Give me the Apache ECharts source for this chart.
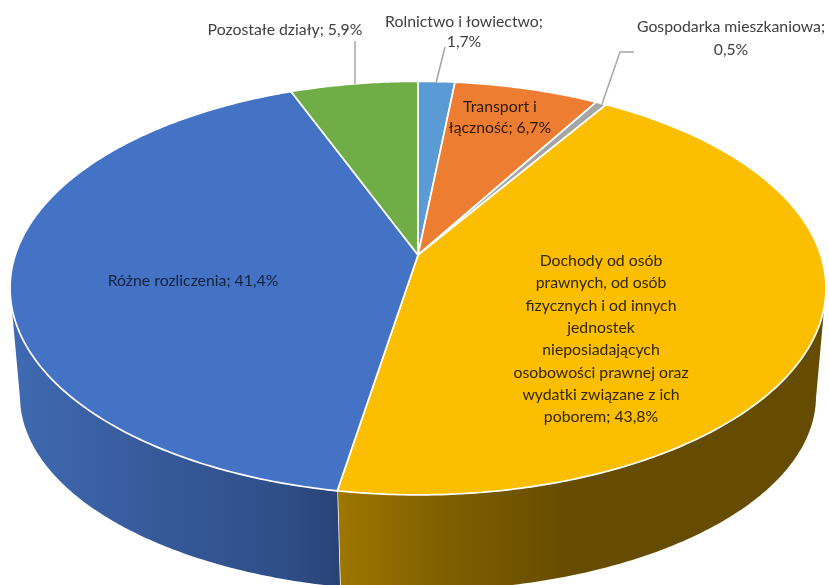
<!DOCTYPE html>
<html><head><meta charset="utf-8">
<style>html,body{margin:0;padding:0;background:#fff;overflow:hidden}#c{width:829px;height:585px}</style>
<script src="https://cdn.jsdelivr.net/npm/echarts@6/dist/echarts.min.js"></script>
</head><body><div id="c"></div>
<script>
const categories = ['Rolnictwo i łowiectwo','Transport i łączność','Gospodarka mieszkaniowa','Dochody od osób prawnych, od osób fizycznych i od innych jednostek nieposiadających osobowości prawnej oraz wydatki związane z ich poborem','Różne rozliczenia','Pozostałe działy'];
const values = [1.7,6.7,0.5,43.8,41.4,5.9];
const labelTexts = [
 'Rolnictwo i łowiectwo;\n1,7%',
 'Transport i\nłączność; 6,7%',
 'Gospodarka mieszkaniowa;\n0,5%',
 'Dochody od osób\nprawnych, od osób\nfizycznych i od innych\njednostek\nnieposiadających\nosobowości prawnej oraz\nwydatki związane z ich\npoborem; 43,8%',
 'Różne rozliczenia; 41,4%',
 'Pozostałe działy; 5,9%'];
const colors = ['#5B9BD5','#ED7D31','#A5A5A5','#FCBE00','#4472C4','#70AD47'];

const FONT = 'Lato, "Open Sans", sans-serif';
const TOP = {cx:418, cy:255, A:402.7, B:201.5, k:0.16};
const BOT = {cx:418, cy:367, A:393.5, B:190, k:0.15};
const proj = (P,t)=>{const w=1+P.k*Math.cos(t);return [P.cx+P.A*Math.sin(t)/w, P.cy-P.B*Math.cos(t)/w];};
const total = values.reduce((a,b)=>a+b,0);
let acc=0;
const spans = values.map(v=>{const a=acc/total*2*Math.PI;acc+=v;return [a,acc/total*2*Math.PI];});
const arc = (P,a,b)=>{const n=Math.max(2,Math.ceil(Math.abs(b-a)/0.01));const r=[];for(let i=0;i<=n;i++)r.push(proj(P,a+(b-a)*i/n));return r;};

const wallFill = {
 3:{type:'linear',global:true,x:338,y:0,x2:827,y2:0,colorStops:[{offset:0,color:'#9E7700'},{offset:0.22,color:'#7F5F00'},{offset:0.48,color:'#664C00'},{offset:1,color:'#654C00'}]},
 4:{type:'linear',global:true,x:10,y:0,x2:338,y2:0,colorStops:[{offset:0,color:'#3F6AB1'},{offset:0.45,color:'#37599A'},{offset:0.85,color:'#2E4E86'},{offset:1,color:'#2A4376'}]}
};
const VIS=[Math.acos(-TOP.k),2*Math.PI-Math.acos(-TOP.k)];

const leaders = {
 0:[[445,47],[436,83]],
 2:[[634,52],[620,52],[602,104]],
 5:[[355,41],[355,84]]
};
const labelPos = [
 {x:464,y:32,c:'#404040',lh:20},
 {x:500,y:117,c:'#2b1a08',lh:21},
 {x:731,y:38,c:'#404040',lh:23},
 {x:601,y:339,c:'#332600',lh:22.3},
 {x:193,y:281,c:'#14233f',lh:20},
 {x:285,y:30,c:'#404040',lh:20}
];

const data = categories.map((n,i)=>({name:n,value:values[i]}));
const chart = echarts.init(document.getElementById('c'),null,{renderer:'canvas'});
chart.setOption({
 animation:false,
 backgroundColor:'#fff',
 series:[
  {type:'custom',coordinateSystem:'none',z:1,silent:true,data,
   renderItem(p,api){
    const i=p.dataIndex; const s=spans[i];
    const a=Math.max(s[0],VIS[0]), b=Math.min(s[1],VIS[1]);
    if(a>=b||!wallFill[i]) return {type:'group',children:[]};
    const pts=arc(TOP,a,b).concat(arc(BOT,b,a));
    const ch=[{type:'polygon',shape:{points:pts},style:{fill:wallFill[i]}}];
    if(i===3) ch.push({type:'line',shape:{x1:proj(TOP,b)[0],y1:proj(TOP,b)[1],x2:proj(BOT,b)[0],y2:proj(BOT,b)[1]},style:{stroke:'#fff',lineWidth:1.5}});
    return {type:'group',children:ch};
   }},
  {type:'custom',coordinateSystem:'none',z:2,silent:true,data,
   renderItem(p,api){
    const i=p.dataIndex; const s=spans[i];
    const pts=[[TOP.cx,TOP.cy]].concat(arc(TOP,s[0],s[1]));
    return {type:'polygon',shape:{points:pts},style:{fill:colors[i],stroke:'#fff',lineWidth:1.7,lineJoin:'round'}};
   }},
  {type:'custom',coordinateSystem:'none',z:3,silent:true,data,
   renderItem(p,api){
    const i=p.dataIndex; const L=labelPos[i]; const ch=[];
    if(leaders[i]) ch.push({type:'polyline',shape:{points:leaders[i]},style:{fill:null,stroke:'#A6A6A6',lineWidth:1.5}});
    ch.push({type:'text',style:{text:labelTexts[i],x:L.x,y:L.y,align:'center',verticalAlign:'middle',font:'15.8px '+FONT,lineHeight:L.lh,fill:L.c}});
    return {type:'group',children:ch};
   }}
 ]
});
</script></body></html>
